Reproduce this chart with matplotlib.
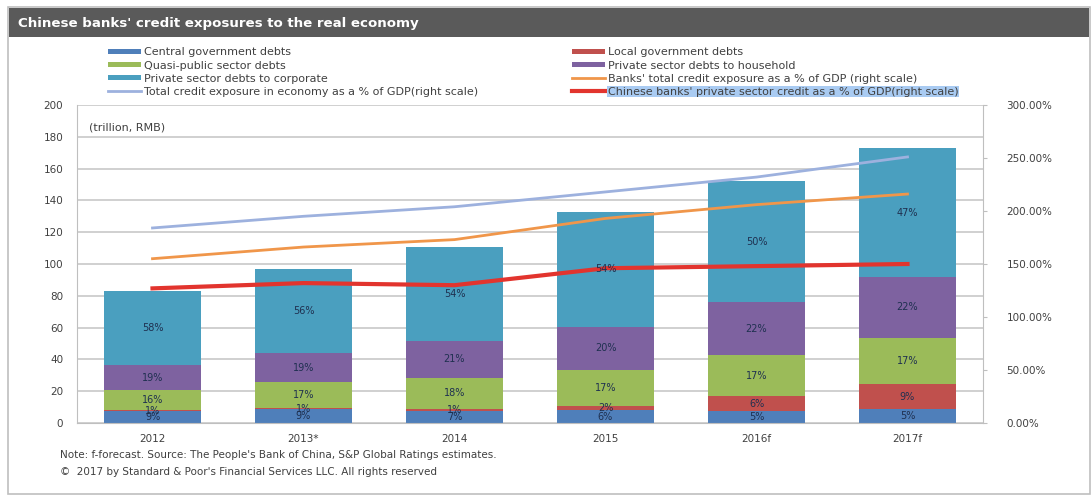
import matplotlib
matplotlib.use("Agg")
import matplotlib.pyplot as plt
from matplotlib.patches import Rectangle
from matplotlib.ticker import FuncFormatter
import numpy as np

plt.rcParams["font.family"] = ["DejaVu Sans"]

years = ["2012", "2013*", "2014", "2015", "2016f", "2017f"]
# bar totals, trillion RMB
totals = [83, 97, 111, 133, 152, 173]
# segment shares of each year's total, %
central = [9, 9, 7, 6, 5, 5]
local = [1, 1, 1, 2, 6, 9]
quasi = [16, 17, 18, 17, 17, 17]
household = [19, 19, 21, 20, 22, 22]
corporate = [58, 56, 54, 54, 50, 47]
# right-scale series, % of GDP
total_credit_gdp = [184, 195, 204, 218, 232, 251]
banks_credit_gdp = [155, 166, 173, 193, 206, 216]
private_credit_gdp = [127, 132, 130, 146, 148, 150]

segments = [
    ("Central government debts", central, "#4F7FBA"),
    ("Local government debts", local, "#C0504D"),
    ("Quasi-public sector debts", quasi, "#9BBB59"),
    ("Private sector debts to household", household, "#7E62A0"),
    ("Private sector debts to corporate", corporate, "#4A9FBF"),
]

fig = plt.figure(figsize=(10.92, 4.98), dpi=100)
W, H = 1092, 498

# outer frame and title bar
fig.patches.append(Rectangle((8 / W, 1 - 494 / H), 1082 / W, 487 / H, transform=fig.transFigure,
                             facecolor="white", edgecolor="#BFBFBF", lw=1.2, zorder=-10))
fig.patches.append(Rectangle((9 / W, 1 - 37 / H), 1080 / W, 29 / H, transform=fig.transFigure,
                             facecolor="#5A5A5A", edgecolor="none", zorder=-5))
fig.text(18 / W, 1 - 23 / H, "Chinese banks' credit exposures to the real economy", color="white",
         fontsize=9.6, fontweight="bold", va="center", ha="left")

ax = fig.add_axes([77 / W, 1 - 423 / H, (983 - 77) / W, (423 - 105) / H])
ax2 = ax.twinx()

x = np.arange(len(years))
shares_sum = np.sum([s[1] for s in segments], axis=0)
bottom = np.zeros(len(years))
bar_handles = {}
for name, share, color in segments:
    h = np.array(totals) * np.array(share) / shares_sum
    bars = ax.bar(x, h, width=0.64, bottom=bottom, color=color, edgecolor="none", zorder=2)
    bar_handles[name] = bars
    for xi, b, hi, s in zip(x, bottom, h, share):
        ax2.text(xi, b + hi / 2, f"{s}%", transform=ax.transData, ha="center", va="center",
                 fontsize=7, color="#1F3050", zorder=5)
    bottom += h

ax.set_xlim(-0.5, len(years) - 0.5)
ax.set_ylim(0, 200)
ax.set_yticks(np.arange(0, 201, 20))
ax.set_xticks(x)
ax.set_xticklabels(years)
ax.grid(axis="y", color="#C8C8C8", lw=1.2, zorder=0)
ax.set_axisbelow(True)
ax.tick_params(axis="both", labelsize=7.5, colors="#404040", length=0, pad=10)
ax.tick_params(axis="x", pad=8)
for side in ["top", "right"]:
    ax.spines[side].set_visible(False)
ax.spines["left"].set_color("#BFBFBF")
ax.spines["bottom"].set_color("#BFBFBF")
ax.text(12 / 906, 0.93, "(trillion, RMB)", transform=ax.transAxes, fontsize=8, color="#404040",
        ha="left", va="center")

l1, = ax2.plot(x, total_credit_gdp, color="#9DB1DE", lw=2, zorder=3)
l2, = ax2.plot(x, banks_credit_gdp, color="#F0964A", lw=2, zorder=3)
l3, = ax2.plot(x, private_credit_gdp, color="#E2342E", lw=3, zorder=3)
ax2.set_ylim(0, 300)
ax2.set_yticks(np.arange(0, 301, 50))
ax2.yaxis.set_major_formatter(FuncFormatter(lambda v, p: f"{v:.2f}%"))
ax2.tick_params(axis="y", labelsize=7.5, colors="#404040", length=3, pad=14)
ax2.tick_params(axis="y", color="#BFBFBF")
for side in ["top", "left", "bottom"]:
    ax2.spines[side].set_visible(False)
ax2.spines["right"].set_color("#BFBFBF")

leg_kw = dict(frameon=False, fontsize=8, handlelength=2.9, handletextpad=0.3, labelspacing=0.28,
              borderaxespad=0, labelcolor="#404040")
left_items = [
    (bar_handles["Central government debts"], "Central government debts"),
    (bar_handles["Quasi-public sector debts"], "Quasi-public sector debts"),
    (bar_handles["Private sector debts to corporate"], "Private sector debts to corporate"),
    (l1, "Total credit exposure in economy as a % of GDP(right scale)"),
]
right_items = [
    (bar_handles["Local government debts"], "Local government debts"),
    (bar_handles["Private sector debts to household"], "Private sector debts to household"),
    (l2, "Banks' total credit exposure as a % of GDP (right scale)"),
    (l3, "Chinese banks' private sector credit as a % of GDP(right scale)"),
]
lg1 = fig.legend([h for h, _ in left_items], [t for _, t in left_items], loc="upper left",
                 bbox_to_anchor=(104 / W, 1 - 43 / H), **leg_kw)
lg2 = fig.legend([h for h, _ in right_items], [t for _, t in right_items], loc="upper left",
                 bbox_to_anchor=(568 / W, 1 - 43 / H), **leg_kw)
# thinner swatches for the bar entries
for lg in (lg1, lg2):
    for p in lg.get_patches():
        y0, hh = p.get_y(), p.get_height()
        p.set_y(y0 + hh * 0.18)
        p.set_height(hh * 0.64)
lg2.get_texts()[-1].set_bbox(dict(facecolor="#A9CBF2", edgecolor="none", pad=0.5))

fig.text(60 / W, 1 - 455 / H, "Note: f-forecast. Source: The People's Bank of China, S&P Global Ratings estimates.",
         fontsize=7.5, color="#404040", va="center")
fig.text(60 / W, 1 - 472 / H, "\u00a9  2017 by Standard & Poor's Financial Services LLC. All rights reserved",
         fontsize=7.5, color="#404040", va="center")

fig.savefig("out.png", dpi=100)
